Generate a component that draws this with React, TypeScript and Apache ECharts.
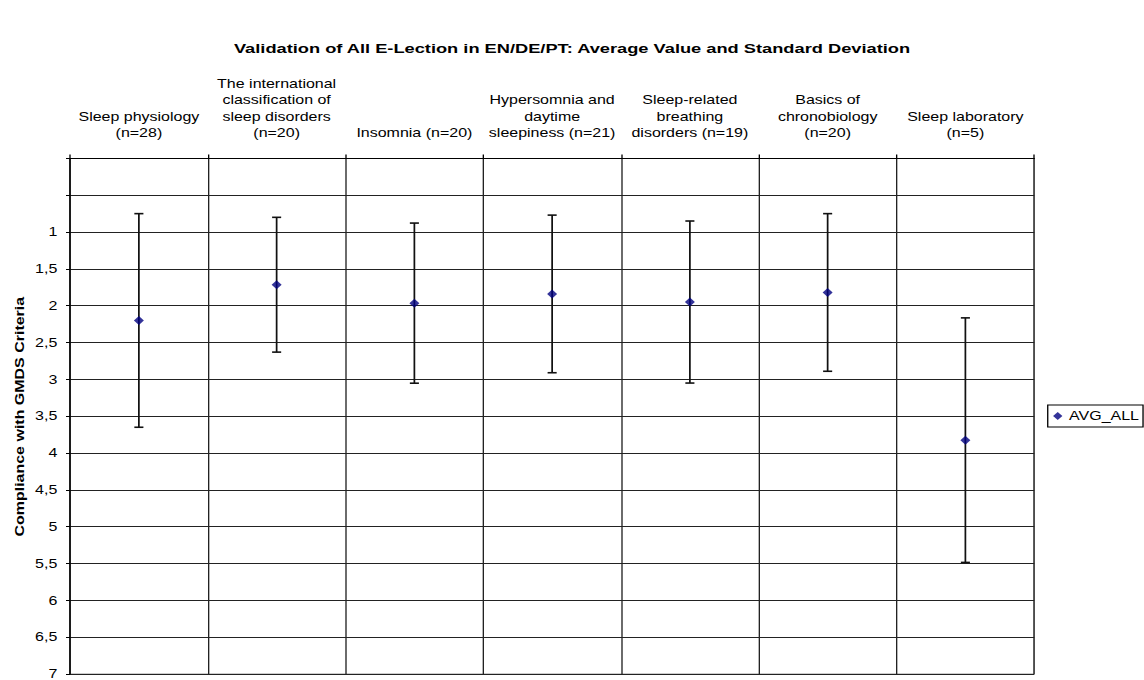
import React, { useEffect, useRef } from "react";
import * as echarts from "echarts";

const titleText =
  "Validation of All E-Lection in EN/DE/PT: Average Value and Standard Deviation";
const yAxisTitle = "Compliance with GMDS Criteria";
const seriesName = "AVG_ALL";

const categories = [
  "Sleep physiology\n(n=28)",
  "The international\nclassification of\nsleep disorders\n(n=20)",
  "Insomnia (n=20)",
  "Hypersomnia and\ndaytime\nsleepiness (n=21)",
  "Sleep-related\nbreathing\ndisorders (n=19)",
  "Basics of\nchronobiology\n(n=20)",
  "Sleep laboratory\n(n=5)",
];

const means = [2.2, 1.715, 1.965, 1.84, 1.95, 1.82, 3.825];
const stdDevs = [1.45, 0.915, 1.087, 1.07, 1.1, 1.07, 1.66];

const yMin = 0;
const yMax = 7;
const yStep = 0.5;

const SCALE_X = 1144 / 858;
const FONT = "Arial, 'Liberation Sans', sans-serif";

export default function App() {
  const ref = useRef<HTMLDivElement>(null);

  useEffect(() => {
    if (!ref.current) return;
    const chart = echarts.init(ref.current, undefined, { renderer: "svg" });

    const errorData = means.map((m, i) => [i, m - stdDevs[i], m + stdDevs[i]]);

    chart.setOption({
      animation: false,
      backgroundColor: "#fff",
      textStyle: { fontFamily: FONT },
      title: {
        text: titleText,
        left: "center",
        top: 36,
        textStyle: { fontFamily: FONT, fontSize: 13.7, fontWeight: "bold", color: "#000" },
      },
      legend: {
        data: [{ name: seriesName, icon: "diamond" }],
        left: 785.8,
        top: 405,
        orient: "vertical",
        padding: [5, 3, 5, 4],
        itemWidth: 7,
        itemHeight: 8,
        borderColor: "#000",
        borderWidth: 1,
        textStyle: { fontFamily: FONT, fontSize: 12, color: "#000" },
      },
      graphic: [
        {
          type: "text",
          x: 15,
          y: 416.7,
          rotation: Math.PI / 2,
          scaleX: SCALE_X,
          scaleY: 1 / SCALE_X,
          style: {
            text: yAxisTitle,
            fontFamily: FONT,
            fontSize: 12,
            fontWeight: "bold",
            fill: "#000",
            align: "center",
            verticalAlign: "middle",
          },
        },
      ],
      grid: {
        left: 52.5,
        right: 82.3,
        top: 158.4,
        bottom: 4.7,
        show: true,
        borderColor: "#999",
        borderWidth: 1,
        backgroundColor: "transparent",
      },
      xAxis: {
        type: "category",
        position: "top",
        data: categories,
        boundaryGap: true,
        axisLine: { show: true, lineStyle: { color: "#000", width: 1 } },
        axisTick: { show: true, inside: false, length: 4, interval: 0, lineStyle: { color: "#000" } },
        axisLabel: {
          interval: 0,
          margin: 17,
          fontFamily: FONT,
          fontSize: 12,
          lineHeight: 16.5,
          color: "#000",
          align: "center",
        },
        splitLine: { show: true, interval: 0, lineStyle: { color: "#222", width: 1 } },
      },
      yAxis: {
        type: "value",
        inverse: true,
        min: yMin,
        max: yMax,
        interval: yStep,
        axisLine: { show: true, lineStyle: { color: "#000", width: 1 } },
        axisTick: { show: true, inside: false, length: 3, lineStyle: { color: "#000" } },
        axisLabel: {
          margin: 9.5,
          fontFamily: FONT,
          fontSize: 12,
          color: "#000",
          formatter: (v: number) => (v < 1 ? "" : String(v).replace(".", ",")),
        },
        splitLine: { show: true, lineStyle: { color: "#222", width: 1 } },
      },
      series: [
        {
          type: "custom",
          name: "errorbars",
          z: 2,
          silent: true,
          data: errorData,
          encode: { x: 0, y: [1, 2] },
          renderItem: (params: any, api: any) => {
            const idx = api.value(0);
            const lo = api.coord([idx, api.value(1)]);
            const hi = api.coord([idx, api.value(2)]);
            const hw = 3.4;
            const style = { stroke: "#111", lineWidth: 1.3, fill: "none" };
            return {
              type: "group",
              children: [
                { type: "line", shape: { x1: lo[0], y1: lo[1], x2: hi[0], y2: hi[1] }, style },
                { type: "line", shape: { x1: lo[0] - hw, y1: lo[1], x2: lo[0] + hw, y2: lo[1] }, style: { ...style, lineWidth: 1.6 } },
                { type: "line", shape: { x1: hi[0] - hw, y1: hi[1], x2: hi[0] + hw, y2: hi[1] }, style: { ...style, lineWidth: 1.6 } },
              ],
            };
          },
        },
        {
          type: "scatter",
          name: seriesName,
          z: 3,
          symbol: "diamond",
          symbolSize: [7.5, 9],
          itemStyle: { color: "#000080" },
          data: means.map((m, i) => [i, m]),
        },
      ],
    });

    return () => chart.dispose();
  }, []);

  return (
    <div
      style={{
        position: "absolute",
        left: 0,
        top: 0,
        width: 1144,
        height: 680,
        overflow: "hidden",
        background: "#fff",
      }}
    >
      <div
        ref={ref}
        style={{
          width: 858,
          height: 680,
          transform: `scaleX(${SCALE_X})`,
          transformOrigin: "0 0",
        }}
      />
    </div>
  );
}
